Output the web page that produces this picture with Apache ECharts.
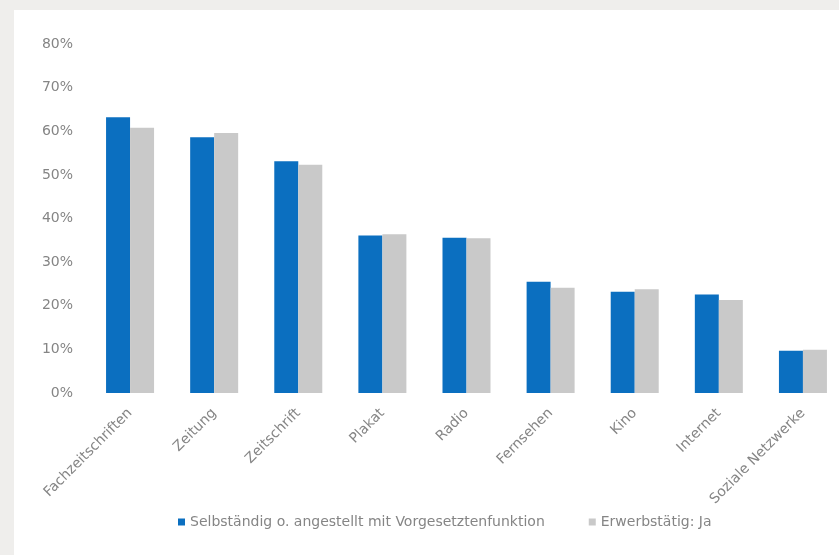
<!DOCTYPE html>
<html>
<head>
<meta charset="utf-8">
<script src="https://cdn.jsdelivr.net/npm/echarts@6/dist/echarts.min.js"></script>
<style>
  html, body { margin: 0; padding: 0; background: #efeeec; width: 839px; height: 555px; overflow: hidden; }
  #chart { position: absolute; left: 14px; top: 10px; width: 850px; height: 545px; background: #ffffff; }
</style>
</head>
<body>
<div id="chart"></div>
<script>
const categories = ["Fachzeitschriften", "Zeitung", "Zeitschrift", "Plakat", "Radio", "Fernsehen", "Kino", "Internet", "Soziale Netzwerke"];
const seriesNames = ["Selbständig o. angestellt mit Vorgesetztenfunktion", "Erwerbstätig: Ja"];
const valuesLeaders = [63.2, 58.6, 53.1, 36.1, 35.6, 25.5, 23.2, 22.6, 9.7];
const valuesEmployed = [60.8, 59.6, 52.3, 36.4, 35.5, 24.1, 23.8, 21.3, 9.9];
const yTicks = [0, 10, 20, 30, 40, 50, 60, 70, 80];

const chart = echarts.init(document.getElementById('chart'));
chart.setOption({
  animation: false,
  textStyle: { fontFamily: 'DejaVu Sans' },
  grid: { left: 74, top: 34, width: 757, bottom: 162 },
  legend: {
    top: 500, left: 159,
    itemWidth: 7, itemHeight: 7, itemGap: 44,
    icon: 'rect',
    textStyle: { color: '#858585', fontSize: 14, fontFamily: 'DejaVu Sans' },
    data: seriesNames
  },
  xAxis: {
    type: 'category',
    data: categories,
    axisLine: { show: false },
    axisTick: { show: false },
    axisLabel: { rotate: 45, color: '#858585', fontSize: 14, margin: 18, interval: 0 }
  },
  yAxis: {
    type: 'value',
    min: yTicks[0], max: yTicks[yTicks.length - 1], interval: 10,
    splitLine: { show: false },
    axisLine: { show: false },
    axisTick: { show: false },
    axisLabel: { color: '#858585', fontSize: 14, margin: 15, formatter: v => v + '%' }
  },
  series: [
    { name: seriesNames[0], type: 'bar', data: valuesLeaders, barWidth: 24, barGap: '0%', itemStyle: { color: '#0b6fc0' } },
    { name: seriesNames[1], type: 'bar', data: valuesEmployed, barWidth: 24, barGap: '0%', itemStyle: { color: '#c9c9c9' } }
  ]
});
</script>
</body>
</html>
